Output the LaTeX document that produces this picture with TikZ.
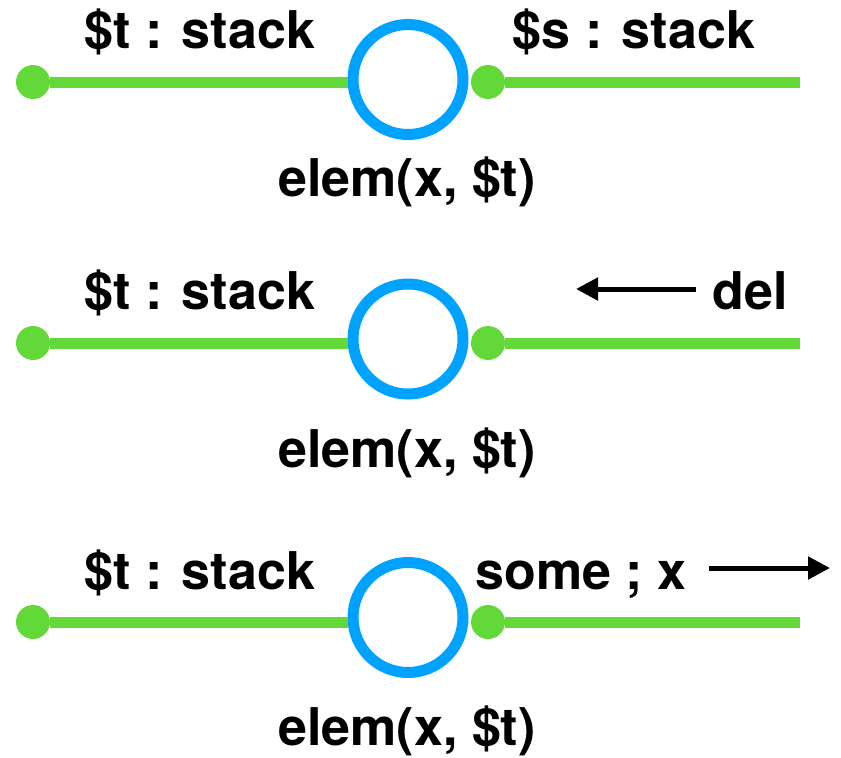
\documentclass[tikz,border=0pt]{standalone}
\usepackage{fontspec}
\setmainfont{TeX Gyre Heros}
\usetikzlibrary{arrows.meta}
\definecolor{wiregreen}{RGB}{98,217,56}
\definecolor{opblue}{RGB}{0,162,255}

\begin{document}
\begin{tikzpicture}[x=0.75pt, y=-0.75pt,
    wire/.style={draw=wiregreen, line width=8.25pt},
    port/.style={circle, fill=wiregreen, inner sep=0pt, minimum size=25.5pt},
    op/.style={circle, draw=opblue, line width=8.25pt, inner sep=0pt, minimum size=82.5pt},
    lbl/.style={anchor=base, inner sep=0pt, font=\fontsize{39}{47}\selectfont\bfseries},
    flow/.style={line width=3.75pt, -{Triangle[length=16.5pt, width=16.5pt]}}]
  \useasboundingbox (0,0) rectangle (841,757);

  % first row
  \node[port] (L1) at (33,82) {};
  \node[op] (O1) at (408,79.5) {};
  \node[port] (R1) at (488,82) {};
  \coordinate (E1) at (800,82);
  \draw[wire] (L1) -- (O1.west |- L1);
  \draw[wire] (R1) -- (E1);
  \node[lbl] (T1) at (200,48) {\$t : stack};
  \node[lbl] (S1) at (634,48) {\$s : stack};
  \node[lbl] (M1) at (407,196) {elem(x, \$t)};

  % second row
  \node[port] (L2) at (33,343) {};
  \node[op] (O2) at (408,339) {};
  \node[port] (R2) at (488,343) {};
  \coordinate (E2) at (800,343);
  \draw[wire] (L2) -- (O2.west |- L2);
  \draw[wire] (R2) -- (E2);
  \node[lbl] (T2) at (200,309) {\$t : stack};
  \node[lbl] (D2) at (750,309) {del};
  \coordinate (A2s) at (696,289);
  \coordinate (A2e) at (576,289);
  \draw[flow] (A2s) -- (A2e);
  \node[lbl] (M2) at (407,467) {elem(x, \$t)};

  % third row
  \node[port] (L3) at (33,622) {};
  \node[op] (O3) at (408,617.5) {};
  \node[port] (R3) at (488,622) {};
  \coordinate (E3) at (800,622);
  \draw[wire] (L3) -- (O3.west |- L3);
  \draw[wire] (R3) -- (E3);
  \node[lbl] (T3) at (200,589) {\$t : stack};
  \node[lbl] (X3) at (581,589) {some ; x};
  \coordinate (A3s) at (709,568);
  \coordinate (A3e) at (830,568);
  \draw[flow] (A3s) -- (A3e);
  \node[lbl] (M3) at (407,745) {elem(x, \$t)};
\end{tikzpicture}
\end{document}
